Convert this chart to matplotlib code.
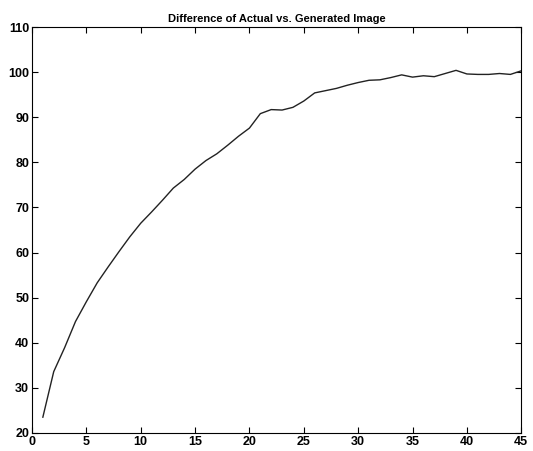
import numpy as np
import matplotlib
matplotlib.use("Agg")
import matplotlib.pyplot as plt

plt.rcParams['font.family'] = ['Liberation Sans', 'DejaVu Sans']

# iteration number and difference value
iterations = list(range(1, 46))
difference = [23.5, 33.6, 38.9, 44.7, 49.1, 53.3, 56.8, 60.2, 63.5, 66.5,
              69.0, 71.6, 74.3, 76.2, 78.5, 80.4, 81.9, 83.8, 85.8, 87.6,
              90.8, 91.7, 91.6, 92.2, 93.6, 95.4, 95.9, 96.4, 97.1, 97.7,
              98.2, 98.3, 98.8, 99.4, 98.9, 99.2, 99.0, 99.7, 100.4, 99.6,
              99.5, 99.5, 99.7, 99.5, 100.3]
xticks = [0, 5, 10, 15, 20, 25, 30, 35, 40, 45]
yticks = [20, 30, 40, 50, 60, 70, 80, 90, 100, 110]

fig = plt.figure(figsize=(5.33, 4.51), dpi=100)
ax = fig.add_axes([0.060, 0.040, 0.918, 0.900])

ax.plot(iterations, difference, color='#222222', linewidth=1.0)

ax.set_xlim(0, 45)
ax.set_ylim(20, 110)
ax.set_xticks(xticks)
ax.set_yticks(yticks)
ax.tick_params(direction='in', top=True, right=True, length=4, width=0.8,
               labelsize=9, pad=2)
for lbl in ax.get_xticklabels() + ax.get_yticklabels():
    lbl.set_fontweight('bold')
for s in ax.spines.values():
    s.set_linewidth(0.8)

ax.set_title('Difference of Actual vs. Generated Image', fontsize=8,
             fontweight='bold', pad=4)

fig.savefig('out.png', dpi=100)
